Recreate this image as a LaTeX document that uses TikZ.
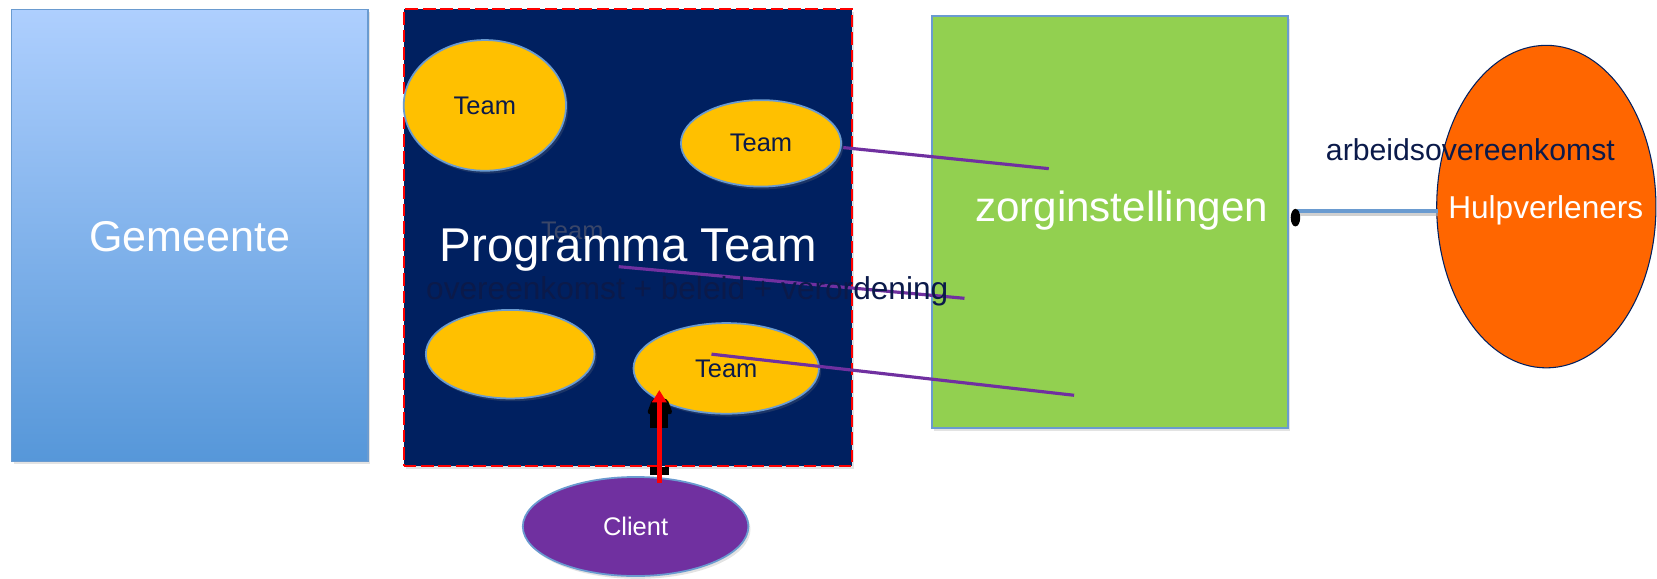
\documentclass[tikz,border=0pt]{standalone}
\usepackage{fontspec}
\setmainfont{Liberation Sans}
\usetikzlibrary{shapes.geometric,arrows.meta,shadows,calc}
\definecolor{navy}{HTML}{002060}
\definecolor{gold}{HTML}{FFC000}
\definecolor{edgeblue}{HTML}{6A9BD0}
\definecolor{leaf}{HTML}{92D050}
\definecolor{plum}{HTML}{7030A0}
\definecolor{flame}{HTML}{FF6600}
\definecolor{inkblue}{HTML}{0B1A4A}
\definecolor{ghostgray}{HTML}{3A4668}
\definecolor{gemtop}{HTML}{AECFFE}
\definecolor{gembot}{HTML}{5697D9}
\begin{document}
\begin{tikzpicture}[x=0.6pt,y=-0.6pt,
  softshadow/.style={drop shadow={opacity=0.22,shadow xshift=1.2pt,shadow yshift=-1.6pt}},
  boxnode/.style={rectangle,inner sep=0pt,draw=edgeblue,line width=0.8pt,softshadow},
  teamnode/.style={ellipse,inner sep=0pt,fill=gold,draw=edgeblue,line width=1pt,softshadow,
    text=inkblue,font=\fontsize{14.5}{17}\selectfont},
  purpleline/.style={draw=plum,line width=1.8pt},
  whitetext/.style={text=white,inner sep=0pt,anchor=base}
]
\useasboundingbox (0,0) rectangle (1572,549.3);
\fill[white] (0,0) rectangle (1572,549.3);

% Gemeente
\node[boxnode,top color=gemtop,bottom color=gembot,minimum width=202.8pt,minimum height=257.4pt]
  (gemeente) at (180,223.5) {};
\node[whitetext,font=\fontsize{24.5}{29}\selectfont] (gemtxt) at (180,239) {Gemeente};

% Programma Team
\node[rectangle,inner sep=0pt,fill=navy,draw=red,line width=1.2pt,dash pattern=on 7.2pt off 2.7pt,
  softshadow,minimum width=255.3pt,minimum height=259.9pt] (prog) at (595.75,225.4) {};

\node[teamnode,minimum width=92.4pt,minimum height=74.4pt] (team1) at (460,100) {Team};
\node[teamnode,minimum width=91.2pt,minimum height=49.2pt] (team2) at (722,136) {Team};
\node[teamnode,minimum width=96pt,minimum height=50.4pt] (team3) at (484,336) {};
\node[teamnode,minimum width=105.6pt,minimum height=51.6pt] (team4) at (689,349.5) {Team};

\node[text=ghostgray,inner sep=0pt,anchor=base,font=\fontsize{14.5}{17}\selectfont] (ghost) at (543,227) {Team};
\node[whitetext,font=\fontsize{27}{32}\selectfont] (progtxt) at (596,248) {Programma Team};

% zorginstellingen
\node[boxnode,fill=leaf,minimum width=202.8pt,minimum height=234.6pt] (zorg) at (1053,210.5) {};
\node[whitetext,font=\fontsize{24}{29}\selectfont] (zorgtxt) at (1064,210) {zorginstellingen};

% purple connectors
\coordinate (p1a) at (800,140);
\coordinate (p1b) at (995,160);
\coordinate (p2a) at (587,253);
\coordinate (p2b) at (915,283);
\coordinate (p3a) at (675,336);
\coordinate (p3b) at (1019,375);
\draw[purpleline] (p1a) -- (p1b);
\draw[purpleline] (p2a) -- (p2b);
\draw[purpleline] (p3a) -- (p3b);

\node[text=inkblue,inner sep=0pt,anchor=base,font=\fontsize{18}{21}\selectfont] (overtxt) at (652,284)
  {overeenkomst + beleid + verordening};

% Hulpverleners
\node[ellipse,inner sep=0pt,fill=flame,draw=navy,line width=0.6pt,minimum width=124.8pt,minimum height=183.6pt]
  (hulp) at (1467,196) {};
\node[whitetext,font=\fontsize{18}{21}\selectfont] (hulptxt) at (1466.5,207) {Hulpverleners};
\node[text=inkblue,inner sep=0pt,anchor=base,font=\fontsize{17.2}{20}\selectfont] (arbtxt) at (1395,152)
  {arbeidsovereenkomst};

% blue connector
\coordinate (b1) at (1230,200);
\coordinate (b2) at (1364,200);
\draw[black!30,line width=2.4pt,opacity=0.6] ([yshift=-2pt]b1) -- ([yshift=-2pt]b2);
\draw[edgeblue,line width=2.4pt] (b1) -- (b2);
\fill[black] (1229,206.5) ellipse [x radius=2.7pt, y radius=5pt];

% Client
\node[ellipse,inner sep=0pt,fill=plum,draw=edgeblue,line width=1pt,softshadow,
  minimum width=128.4pt,minimum height=56.4pt,text=white,font=\fontsize{14.5}{17}\selectfont]
  (client) at (603,499.5) {Client};

% black marks behind the red arrow
\fill[black] (617,390) rectangle (634,406);
\fill[black,rounded corners=2pt] (613.5,393) -- (619,378) -- (633,378) -- (638.5,393) -- cycle;
\fill[black] (617,442.8) rectangle (634.5,450.7);

% red arrow
\coordinate (rs) at (625.5,458);
\coordinate (re) at (625.5,370);
\draw[red,line width=2.8pt,-{Triangle[width=8pt,length=7pt]}] (rs) -- (re);
\end{tikzpicture}
\end{document}
